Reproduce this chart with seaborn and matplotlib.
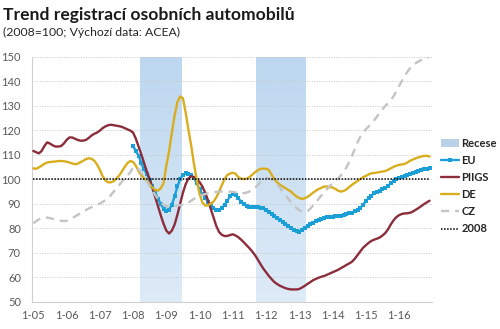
import numpy as np
import matplotlib
matplotlib.use("Agg")
import matplotlib.pyplot as plt
import seaborn as sns
from matplotlib.colors import LinearSegmentedColormap
from matplotlib.patches import Patch
from matplotlib.lines import Line2D

# ---------------- data ----------------
title = "Trend registrací osobních automobilů"
subtitle = "(2008=100; Výchozí data: ACEA)"
tick_years = list(range(2005, 2017))
tick_labels = ["1-05", "1-06", "1-07", "1-08", "1-09", "1-10",
               "1-11", "1-12", "1-13", "1-14", "1-15", "1-16"]
series_labels = ["Recese", "EU", "PIIGS", "DE", "CZ", "2008"]

first_year = 2005          # monthly data Jan 2005 .. Dec 2016
eu_first_year = 2008       # EU series starts Jan 2008

recession_start = [2008.2, 2011.7]
recession_end = [2009.45, 2013.2]

piigs = [
    111.5, 111.0, 110.5, 111.5, 113.5, 115.0, 114.5, 113.8, 113.3, 113.3, 113.5, 114.5,
    116.0, 117.0, 117.0, 116.5, 116.0, 115.7, 115.7, 116.0, 116.8, 117.8, 118.5, 119.0,
    119.8, 120.8, 121.5, 122.0, 122.2, 122.0, 121.8, 121.6, 121.3, 120.8, 120.3, 119.8,
    119.0, 116.5, 113.3, 110.0, 106.5, 103.0, 100.0, 96.3, 92.5, 88.8, 85.2, 81.8,
    79.0, 77.8, 79.0, 81.5, 85.5, 90.0, 94.5, 98.0, 100.3, 101.2, 100.8, 99.8,
    98.8, 97.0, 94.5, 91.5, 88.0, 84.5, 81.0, 78.5, 77.3, 76.8, 76.8, 77.2,
    77.5, 77.0, 76.3, 75.3, 74.2, 73.0, 71.8, 70.5, 69.0, 67.2, 65.3, 63.5,
    62.0, 60.5, 59.2, 58.0, 57.2, 56.5, 56.0, 55.5, 55.2, 55.0, 55.0, 55.0,
    55.2, 55.8, 56.5, 57.3, 58.0, 58.8, 59.3, 59.8, 60.2, 60.5, 61.0, 61.5,
    62.0, 62.5, 63.0, 63.7, 64.3, 65.0, 65.6, 66.3, 67.5, 69.0, 70.5, 72.0,
    73.0, 74.0, 74.8, 75.3, 75.7, 76.2, 77.0, 78.0, 79.5, 81.5, 83.2, 84.5,
    85.3, 85.8, 86.0, 86.1, 86.3, 86.8, 87.5, 88.2, 89.0, 89.8, 90.5, 91.2,
]

de = [
    104.4, 104.2, 104.8, 105.5, 106.3, 106.8, 107.0, 107.1, 107.2, 107.4, 107.4, 107.3,
    107.1, 106.8, 106.4, 106.1, 106.3, 106.9, 107.5, 108.2, 108.5, 108.3, 107.5, 106.0,
    103.8, 101.2, 99.5, 98.7, 98.7, 99.2, 100.2, 101.5, 103.2, 105.0, 106.6, 107.4,
    107.0, 105.5, 103.2, 101.5, 100.2, 99.3, 97.8, 96.5, 95.6, 95.3, 96.3, 98.3,
    105.5, 111.5, 119.0, 126.0, 131.5, 133.7, 133.0, 127.0, 120.0, 113.5, 106.0, 99.5,
    94.0, 90.5, 89.2, 89.3, 90.0, 90.8, 92.5, 94.8, 97.5, 100.0, 101.7, 102.3,
    102.6, 102.2, 100.8, 100.2, 100.0, 100.2, 100.8, 101.8, 102.8, 103.6, 104.2, 104.3,
    104.2, 103.8, 101.8, 100.0, 98.7, 97.7, 97.0, 96.3, 95.6, 94.9, 93.8, 92.9,
    92.3, 91.9, 92.2, 92.8, 93.6, 94.5, 95.3, 96.0, 96.5, 97.0, 97.0, 96.7,
    96.6, 96.0, 95.3, 94.9, 95.2, 95.8, 96.8, 97.7, 98.5, 99.2, 100.0, 100.8,
    101.3, 101.9, 102.4, 102.5, 102.7, 102.9, 103.1, 103.3, 103.8, 104.4, 105.0, 105.5,
    105.8, 106.0, 106.2, 106.8, 107.5, 108.0, 108.5, 108.9, 109.2, 109.5, 109.5, 109.2,
]

cz = [
    82.0, 82.8, 83.6, 84.2, 84.4, 84.3, 84.1, 83.8, 83.5, 83.2, 83.0, 82.9,
    83.0, 83.4, 84.0, 84.7, 85.4, 86.1, 86.8, 87.4, 88.0, 88.6, 89.1, 89.5,
    90.0, 90.7, 91.4, 92.2, 93.5, 94.9, 96.3, 97.6, 99.0, 100.3, 101.5, 102.8,
    104.8, 105.0, 104.0, 102.5, 100.8, 99.0, 97.2, 95.3, 93.5, 91.8, 90.5, 89.5,
    89.0, 88.8, 88.8, 89.0, 89.2, 89.4, 89.6, 90.0, 90.5, 91.2, 92.0, 92.7,
    93.2, 93.6, 93.9, 94.2, 94.4, 94.6, 94.8, 94.9, 95.0, 95.0, 95.0, 94.9,
    94.8, 94.6, 94.4, 94.3, 94.3, 94.5, 95.0, 95.8, 96.6, 97.5, 98.8, 100.0,
    100.5, 100.4, 99.8, 99.0, 97.8, 96.5, 95.0, 93.5, 92.0, 90.5, 89.2, 88.2,
    87.3, 86.7, 86.5, 87.0, 88.0, 89.2, 90.6, 92.0, 93.4, 94.8, 96.0, 97.2,
    98.2, 99.2, 100.3, 101.5, 103.0, 104.8, 107.0, 109.5, 112.3, 115.0, 117.3, 119.0,
    120.3, 121.5, 122.7, 124.0, 125.5, 127.0, 128.5, 129.8, 131.0, 132.2, 133.8, 135.8,
    138.0, 140.0, 142.0, 143.8, 145.3, 146.4, 147.3, 148.0, 148.6, 149.1, 149.5, 150.0,
]

eu = [
    113.5, 111.5, 109.5, 106.5, 104.0, 102.0, 99.5, 97.0, 94.5, 92.0, 89.8, 88.0,
    87.0, 87.5, 89.5, 93.0, 97.0, 100.0, 101.8, 102.4, 102.3, 101.6, 100.5, 98.3,
    95.8, 94.0, 92.3, 90.8, 89.3, 88.3, 87.5, 87.6, 88.2, 89.5, 91.2, 93.0,
    94.0, 93.5, 92.2, 90.8, 89.7, 89.0, 88.8, 88.8, 88.8, 88.6, 88.4, 88.1,
    87.5, 86.7, 85.8, 85.0, 84.2, 83.4, 82.6, 81.8, 81.0, 80.1, 79.3, 78.7,
    78.5, 79.3, 80.2, 81.0, 81.7, 82.3, 82.8, 83.3, 83.8, 84.2, 84.5, 84.7,
    84.7, 84.8, 84.8, 85.0, 85.3, 85.7, 86.0, 86.3, 86.8, 87.5, 88.3, 89.5,
    91.0, 92.3, 93.3, 94.2, 94.8, 95.3, 95.8, 96.3, 97.2, 98.3, 99.3, 100.0,
    100.5, 101.0, 101.3, 101.7, 102.1, 102.5, 102.9, 103.3, 103.7, 104.0, 104.3, 104.5,
]

base_2008 = [100.0] * len(piigs)

# ---------------- styling ----------------
C_EU = "#1aa0d6"
C_PIIGS = "#8c2d3c"
C_DE = "#d8ae1e"
C_CZ = "#c4c4c4"
C_BASE = "#000000"

sns.set_theme(style="white")
plt.rcParams["font.family"] = ["Lato", "DejaVu Sans"]

fig = plt.figure(figsize=(5.0, 3.29), dpi=100)
ax = fig.add_axes([0.064, 0.083, 0.800, 0.745])

months = first_year + np.arange(len(piigs)) / 12.0
eu_months = eu_first_year + np.arange(len(eu)) / 12.0

# recession bands with vertical gradient
cmap = LinearSegmentedColormap.from_list("rec", ["#deebf8", "#bcd7ef"])
grad = np.linspace(0, 1, 128).reshape(-1, 1)
for s, e in zip(recession_start, recession_end):
    ax.imshow(grad, extent=[s, e, 50, 150], origin="lower", aspect="auto",
              cmap=cmap, zorder=0.2, interpolation="bilinear")

sns.lineplot(x=eu_months, y=eu, ax=ax, color=C_EU, linewidth=1.7,
             marker="s", markersize=3.4, markeredgewidth=0, zorder=3)
sns.lineplot(x=months, y=piigs, ax=ax, color=C_PIIGS, linewidth=1.7, zorder=3)
sns.lineplot(x=months, y=de, ax=ax, color=C_DE, linewidth=1.7, zorder=3)
sns.lineplot(x=months, y=cz, ax=ax, color=C_CZ, linewidth=1.7,
             linestyle=(0, (3.5, 2.5)), zorder=3)
sns.lineplot(x=months, y=base_2008, ax=ax, color=C_BASE, linewidth=1.1,
             linestyle=(0, (1, 1)), zorder=4)

ax.set_xlim(2004.96, 2016.99)
ax.set_ylim(50, 150)
ax.set_yticks(range(50, 151, 10))
ax.set_xticks(tick_years)
ax.set_xticklabels(tick_labels)
ax.set_xlabel("")
ax.set_ylabel("")
ax.tick_params(axis="both", length=0, labelsize=8, colors="#595959")
ax.tick_params(axis="y", pad=8)
ax.tick_params(axis="x", pad=6)

ax.set_axisbelow(True)
ax.yaxis.grid(True, color="#c8c8c8", linestyle=(0, (1, 1.5)), linewidth=0.7)
ax.xaxis.grid(False)
for side in ["top", "right"]:
    ax.spines[side].set_visible(False)
for side in ["left", "bottom"]:
    ax.spines[side].set_color("#d0d0d0")
    ax.spines[side].set_linewidth(0.8)

fig.text(0.006, 0.9377, title, fontsize=12.6, fontweight="bold",
         va="baseline", ha="left", color="#1a1a1a")
fig.text(0.006, 0.892, subtitle, fontsize=8.8, va="baseline", ha="left",
         color="#262626")

handles = [
    Patch(facecolor="#b8d0e8", edgecolor="none"),
    Line2D([], [], color=C_EU, lw=1.7, marker="s", markersize=3.4, markeredgewidth=0),
    Line2D([], [], color=C_PIIGS, lw=1.7),
    Line2D([], [], color=C_DE, lw=1.7),
    Line2D([], [], color=C_CZ, lw=1.7, linestyle=(0, (3.5, 2.5))),
    Line2D([], [], color=C_BASE, lw=1.1, linestyle=(0, (1, 1))),
]
fig.legend(handles, series_labels, loc="upper left", bbox_to_anchor=(0.882, 0.581),
           frameon=False, prop={"weight": "bold", "size": 8},
           handlelength=1.6, handletextpad=0.25, labelspacing=0.55,
           borderpad=0, borderaxespad=0, labelcolor="#262626")

fig.savefig("out.png", dpi=100)
